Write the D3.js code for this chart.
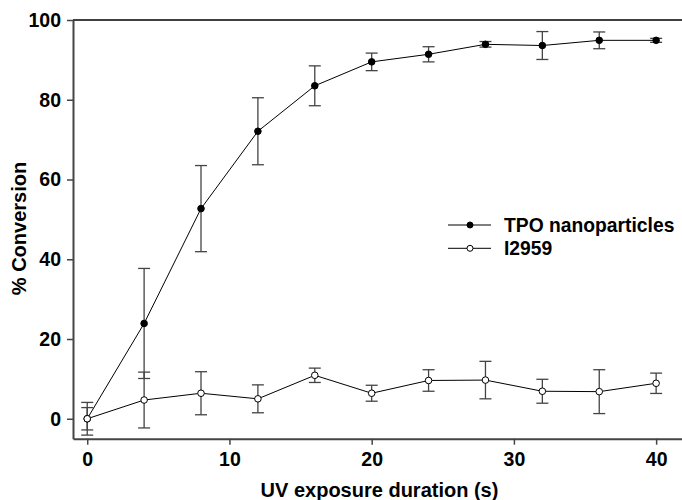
<!DOCTYPE html>
<html><head><meta charset="utf-8">
<script src="https://cdn.jsdelivr.net/npm/d3@7/dist/d3.min.js"></script>
<style>html,body{margin:0;padding:0;background:#fff;}svg{display:block;font-family:"Liberation Sans",Arial,sans-serif;font-weight:bold;}</style>
</head><body>
<svg id="c" width="682" height="500"></svg>
<script>
const times = [0, 4, 8, 12, 16, 20, 24, 28, 32, 36, 40];
const tpoMean = [0, 23.9, 52.7, 72.1, 83.5, 89.5, 91.4, 93.9, 93.6, 94.9, 94.9];
const tpoErr  = [2.8, 13.8, 10.8, 8.4, 5.0, 2.2, 1.9, 0.7, 3.5, 2.1, 0.5];
const i2959Mean = [0, 4.7, 6.4, 5.0, 10.9, 6.4, 9.6, 9.7, 6.9, 6.8, 8.9];
const i2959Err  = [4.1, 7.0, 5.4, 3.5, 1.8, 2.0, 2.7, 4.7, 3.0, 5.5, 2.55];
const xTicks = [0, 10, 20, 30, 40];
const yTicks = [0, 20, 40, 60, 80, 100];
const seriesNames = ["TPO nanoparticles", "I2959"];

const svg = d3.select("#c");
const x = d3.scaleLinear().domain([-1, 42.1]).range([73, 686]);
const y = d3.scaleLinear().domain([-5, 100]).range([438.7, 20]);

// top spine
svg.append("line").attr("x1", 73).attr("x2", 686).attr("y1", y(100)).attr("y2", y(100))
  .attr("stroke", "#000").attr("stroke-width", 1.5);

const xAxis = svg.append("g").attr("transform", `translate(0,${y(-5)})`)
  .call(d3.axisBottom(x).tickValues(xTicks).tickSize(6).tickSizeOuter(0).tickPadding(5));
const yAxis = svg.append("g").attr("transform", `translate(${x(-1)},0)`)
  .call(d3.axisLeft(y).tickValues(yTicks).tickSize(6).tickSizeOuter(0).tickPadding(6));
[xAxis, yAxis].forEach(g => {
  g.select(".domain").attr("stroke", "#444").attr("stroke-width", 2);
  g.selectAll(".tick line").attr("stroke", "#444").attr("stroke-width", 1.5);
  g.selectAll(".tick text").attr("fill", "#000").style("font-size", "19.5px").style("font-weight", "bold")
   .style("font-family", '"Liberation Sans",Arial,sans-serif');
});
xAxis.selectAll(".tick text").attr("dy", "0.85em");

const series = [
  {name: seriesNames[0], mean: tpoMean, err: tpoErr, fill: "#000"},
  {name: seriesNames[1], mean: i2959Mean, err: i2959Err, fill: "#fff"}
];
const line = d3.line().x(d => x(d[0])).y(d => y(d[1]));
const capW = 6;

// error bars
series.forEach(s => {
  const g = svg.append("g");
  times.forEach((t, i) => {
    const cx = x(t), hi = y(s.mean[i] + s.err[i]), lo = y(s.mean[i] - s.err[i]);
    g.append("line").attr("x1", cx).attr("x2", cx).attr("y1", hi).attr("y2", lo).attr("stroke", "#444").attr("stroke-width", 1.3);
    g.append("line").attr("x1", cx - capW).attr("x2", cx + capW).attr("y1", hi).attr("y2", hi).attr("stroke", "#444").attr("stroke-width", 1.3);
    g.append("line").attr("x1", cx - capW).attr("x2", cx + capW).attr("y1", lo).attr("y2", lo).attr("stroke", "#444").attr("stroke-width", 1.3);
  });
});
// lines and markers
series.forEach(s => {
  const pts = times.map((t, i) => [t, s.mean[i]]);
  svg.append("path").attr("d", line(pts)).attr("fill", "none").attr("stroke", "#000").attr("stroke-width", 1);
  svg.append("g").selectAll("circle").data(pts).join("circle")
    .attr("cx", d => x(d[0])).attr("cy", d => y(d[1])).attr("r", 3.3)
    .attr("fill", s.fill).attr("stroke", "#000").attr("stroke-width", 1);
});

// legend
const leg = svg.append("g");
series.forEach((s, i) => {
  const ly = 225 + i * 23.3;
  leg.append("line").attr("x1", 448).attr("x2", 491).attr("y1", ly).attr("y2", ly).attr("stroke", "#000").attr("stroke-width", 1);
  leg.append("circle").attr("cx", 470).attr("cy", ly).attr("r", 3).attr("fill", s.fill).attr("stroke", "#000").attr("stroke-width", 1);
  leg.append("text").attr("x", 504).attr("y", ly + 6.5).style("font-size", "19.3px").text(s.name);
});

// axis titles
svg.append("text").attr("x", 379.5).attr("y", 497).attr("text-anchor", "middle").style("font-size", "20px")
  .text("UV exposure duration (s)");
svg.append("text").attr("transform", "translate(26,228.5) rotate(-90)").attr("text-anchor", "middle").style("font-size", "20px")
  .text("% Conversion");
</script>
</body></html>
